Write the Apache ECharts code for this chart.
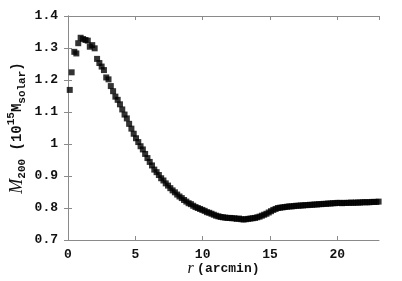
<!DOCTYPE html>
<html>
<head>
<meta charset="utf-8">
<script src="https://cdn.jsdelivr.net/npm/echarts@6/dist/echarts.min.js"></script>
<style>html,body{margin:0;padding:0;background:#fff}#c{width:402px;height:281px}</style>
</head>
<body>
<div id="c"></div>
<script>
const rValues = [0.13,0.27,0.47,0.62,0.76,0.94,1.12,1.30,1.47,1.62,1.80,1.98,2.16,2.33,2.50,2.67,2.84,3.01,3.18,3.35,3.52,3.69,3.86,4.03,4.20,4.37,4.54,4.71,4.88,5.05,5.22,5.39,5.56,5.73,5.90,6.07,6.24,6.41,6.58,6.75,6.92,7.09,7.26,7.43,7.60,7.77,7.94,8.11,8.28,8.45,8.62,8.79,8.96,9.13,9.30,9.47,9.64,9.81,9.98,10.15,10.32,10.49,10.66,10.83,11.00,11.17,11.34,11.51,11.68,11.85,12.02,12.19,12.36,12.53,12.70,12.87,13.04,13.21,13.38,13.55,13.72,13.89,14.06,14.23,14.40,14.57,14.74,14.91,15.08,15.25,15.42,15.59,15.76,15.93,16.10,16.27,16.44,16.61,16.78,16.95,17.12,17.29,17.46,17.63,17.80,17.97,18.14,18.31,18.48,18.65,18.82,18.99,19.16,19.33,19.50,19.67,19.84,20.01,20.18,20.35,20.52,20.69,20.86,21.03,21.20,21.37,21.54,21.71,21.88,22.05,22.22,22.39,22.56,22.73,22.90,23.07];
const m200Values = [1.169,1.224,1.288,1.283,1.315,1.332,1.328,1.325,1.323,1.304,1.309,1.299,1.266,1.253,1.242,1.231,1.208,1.202,1.181,1.165,1.148,1.138,1.124,1.108,1.092,1.080,1.063,1.048,1.032,1.018,1.006,0.993,0.983,0.969,0.956,0.944,0.933,0.920,0.912,0.903,0.893,0.886,0.877,0.870,0.862,0.855,0.849,0.842,0.836,0.831,0.825,0.820,0.815,0.812,0.807,0.803,0.800,0.797,0.794,0.791,0.787,0.785,0.782,0.779,0.776,0.774,0.772,0.771,0.770,0.769,0.769,0.768,0.768,0.766,0.767,0.765,0.764,0.765,0.766,0.767,0.768,0.769,0.771,0.773,0.776,0.779,0.782,0.786,0.790,0.794,0.797,0.800,0.801,0.802,0.803,0.804,0.805,0.805,0.806,0.807,0.807,0.808,0.808,0.809,0.809,0.810,0.810,0.811,0.811,0.812,0.812,0.813,0.813,0.814,0.814,0.815,0.815,0.816,0.816,0.815,0.816,0.816,0.816,0.817,0.816,0.817,0.817,0.817,0.818,0.818,0.818,0.818,0.819,0.819,0.819,0.820];
const xTicks = {min: 0, max: 23.1, interval: 5};
const yTicks = {min: 0.7, max: 1.4, interval: 0.1};

const mono = 'Liberation Mono';
const axisLineStyle = {color: '#8a8a8a', width: 1};
const labelStyle = {fontFamily: mono, fontSize: 13, fontWeight: 'bold', color: '#111'};

const chart = echarts.init(document.getElementById('c'), null, {renderer: 'canvas'});
const data = rValues.map((r, i) => [r, m200Values[i]]);

function xAx(pos, show) {
  return {
    type: 'value', position: pos, min: xTicks.min, max: xTicks.max, interval: xTicks.interval,
    axisLine: {show: true, lineStyle: axisLineStyle},
    axisTick: {show: true, inside: true, length: 4, lineStyle: axisLineStyle},
    axisLabel: {show: show, margin: 8, showMaxLabel: false, ...labelStyle},
    splitLine: {show: false},
    name: show ? '{i|r} {t|(arcmin)}' : '',
    nameLocation: 'middle', nameGap: 21, nameMoveOverlap: false,
    nameTextStyle: {rich: {
      i: {fontFamily: 'Liberation Serif', fontStyle: 'italic', fontSize: 16, color: '#111'},
      t: {fontFamily: mono, fontSize: 13, fontWeight: 'bold', color: '#111'}
    }}
  };
}
function yAx(pos, show) {
  return {
    type: 'value', position: pos, min: yTicks.min, max: yTicks.max, interval: yTicks.interval,
    axisLine: {show: true, lineStyle: axisLineStyle},
    axisTick: {show: true, inside: true, length: 4, lineStyle: axisLineStyle},
    axisLabel: {show: show, margin: 10, ...labelStyle},
    splitLine: {show: false},
    name: show ? '{i|M}{sub|200}{t| (10}{sup|15}{i2|M}{sub|solar}{t|)}' : '',
    nameLocation: 'middle', nameGap: 40, nameRotate: 90, nameMoveOverlap: false,
    nameTextStyle: {lineHeight: 22, rich: {
      i: {fontFamily: 'Liberation Serif', fontStyle: 'italic', fontSize: 18, color: '#111', lineHeight: 22, verticalAlign: 'middle'},
      i2: {fontFamily: mono, fontWeight: 'bold', fontSize: 14, color: '#111', lineHeight: 22, verticalAlign: 'middle'},
      t: {fontFamily: mono, fontSize: 14, fontWeight: 'bold', color: '#111', lineHeight: 22, verticalAlign: 'middle'},
      sub: {fontFamily: mono, fontSize: 11, fontWeight: 'bold', color: '#111', lineHeight: 22, verticalAlign: 'bottom'},
      sup: {fontFamily: mono, fontSize: 11, fontWeight: 'bold', color: '#111', lineHeight: 22, verticalAlign: 'top'}
    }}
  };
}

chart.setOption({
  animation: false,
  backgroundColor: '#fff',
  grid: {left: 68, right: 23, top: 16, bottom: 41, containLabel: false, outerBoundsMode: 'none'},
  xAxis: [xAx('bottom', true), xAx('top', false)],
  yAxis: [yAx('left', true), yAx('right', false)],
  series: [{
    type: 'scatter', xAxisIndex: 0, yAxisIndex: 0,
    symbol: 'rect', symbolSize: 6,
    itemStyle: {color: '#000'},
    data: data
  }]
});
</script>
</body>
</html>
